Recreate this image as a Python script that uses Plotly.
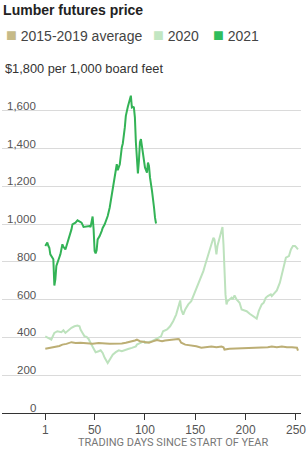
import plotly.graph_objects as go

# ---- data ----
days_2021 = [1, 3, 4, 5, 6, 8, 9, 10, 11, 12, 14, 16, 18, 19, 21, 23, 26, 27, 28, 31,
             33, 35, 37, 39, 41, 45, 46, 47, 48, 49, 50, 51, 52, 53, 55, 57, 58, 60, 62, 63,
             65, 67, 69, 71, 72, 73, 75, 77, 78, 80, 81, 83, 84, 85, 86, 87, 88, 89, 90, 91,
             92, 93, 94, 95, 96, 97, 99, 100, 102, 103, 104, 105, 107, 108, 109, 110, 111]
price_2021 = [884, 902, 885, 875, 840, 822, 814, 675, 707, 778, 813, 840, 893, 880, 866, 902, 946, 972, 999, 1008,
              1020, 1016, 1008, 985, 987, 990, 985, 1008, 1040, 972, 857, 845, 861, 919, 937, 963, 980, 999, 1025, 1043,
              1088, 1158, 1211, 1273, 1317, 1285, 1317, 1406, 1427, 1512, 1573, 1621, 1645, 1662, 1680, 1618, 1621, 1618, 1565, 1432,
              1326, 1268, 1335, 1432, 1450, 1414, 1353, 1300, 1273, 1326, 1308, 1247, 1176, 1140, 1088, 1034, 1003]

days_2020 = [1, 4, 7, 10, 13, 17, 19, 21, 23, 27, 30, 33, 35, 36, 38, 40, 42, 44, 46, 50,
             51, 54, 56, 58, 60, 63, 64, 66, 68, 71, 74, 77, 81, 84, 87, 91, 92, 95, 99, 100,
             104, 107, 110, 113, 116, 118, 122, 125, 128, 131, 134, 135, 136, 138, 140, 143, 146, 148, 150, 153,
             155, 158, 160, 162, 164, 166, 168, 169, 171, 172, 174, 176, 177, 178, 179, 180, 181, 182, 184, 186,
             187, 189, 191, 194, 196, 199, 201, 204, 206, 209, 211, 213, 216, 218, 220, 222, 225, 226, 229, 231,
             234, 236, 238, 240, 243, 245, 247, 249, 250, 252]
price_2020 = [406, 398, 389, 424, 433, 428, 438, 424, 433, 451, 459, 463, 459, 442, 424, 406, 403, 392, 371, 336,
              322, 327, 332, 318, 292, 265, 274, 292, 309, 322, 332, 327, 336, 340, 345, 353, 362, 371, 380, 371,
              375, 380, 389, 398, 406, 433, 442, 459, 486, 521, 584, 596, 548, 521, 548, 575, 592, 619, 645, 681,
              716, 751, 787, 822, 857, 893, 928, 919, 840, 884, 928, 972, 985, 893, 734, 628, 575, 592, 601, 610,
              601, 622, 601, 584, 548, 542, 539, 525, 518, 504, 500, 539, 575, 584, 610, 619, 628, 619, 637, 649,
              690, 734, 787, 822, 831, 866, 884, 884, 879, 866]

days_avg = [1, 4, 8, 12, 15, 18, 22, 27, 31, 36, 41, 45, 48, 54, 58, 61, 65, 68, 71, 74,
            77, 81, 85, 87, 90, 92, 95, 98, 100, 104, 107, 110, 112, 115, 117, 120, 125, 130, 133, 134,
            136, 140, 146, 151, 156, 161, 166, 171, 176, 178, 179, 184, 190, 197, 204, 210, 217, 222, 226, 231,
            236, 241, 246, 249, 251, 252]
price_avg = [340, 343, 346, 350, 355, 362, 366, 375, 371, 372, 371, 368, 367, 370, 367, 368, 366, 366, 366, 367,
             368, 372, 376, 378, 384, 388, 380, 377, 376, 372, 378, 382, 386, 382, 380, 384, 388, 389, 392, 390,
             372, 362, 359, 353, 346, 348, 352, 348, 352, 348, 336, 340, 341, 345, 345, 345, 348, 348, 352, 348,
             352, 348, 348, 345, 346, 330]

series_names = ["2015-2019 average", "2020", "2021"]
series_colors = ["#bcae74", "#bde2bd", "#33b356"]
legend_colors = ["#c6ba88", "#c2e6c2", "#2fbd5c"]

x_tickvals = [1, 50, 100, 150, 200, 250]
x_ticktext = ["1", "50", "100", "150", "200", "250"]
y_tickvals = [0, 200, 400, 600, 800, 1000, 1200, 1400, 1600, 1800]
y_ticktext = ["0", "200", "400", "600", "800", "1,000", "1,200", "1,400", "1,600",
              "$1,800 per 1,000 board feet"]

title_text = "Lumber futures price"
x_title = "TRADING DAYS SINCE START OF YEAR"

# ---- figure ----
W, H = 308, 458
ML, MR, MT, MB = 2, 4, 73, 45
plot_h = H - MT - MB
plot_w = W - ML - MR
x_range = [-42, 255]

fig = go.Figure()
draw_order = [(days_2020, price_2020, 1), (days_avg, price_avg, 0), (days_2021, price_2021, 2)]
for xs, ys, i in draw_order:
    fig.add_trace(go.Scatter(x=xs, y=ys, mode="lines", name=series_names[i],
                             line=dict(color=series_colors[i], width=2),
                             showlegend=False, hoverinfo="skip"))

base = "Liberation Sans, sans-serif"
annotations = []
# y tick labels sitting above gridlines
for v, t in zip(y_tickvals, y_ticktext):
    top = v == y_tickvals[-1]
    annotations.append(dict(
        x=0, xref="paper", y=v, yref="y", text=t, showarrow=False,
        xanchor="left" if top else "right", xshift=1 if top else 36,
        yanchor="middle", yshift=5,
        font=dict(family=base, size=12.8 if top else 11.5,
                  color="#333" if top else "#555")))

# legend built from series names/colors
legend_px = [2, 150, 211]
for name, col, px in zip(series_names, legend_colors, legend_px):
    annotations.append(dict(
        x=px / plot_w, xref="paper", y=1 + (MT - 35.5) / plot_h, yref="paper",
        text=f'<span style="color:{col};font-size:18px">■</span> {name}', showarrow=False,
        xanchor="left", yanchor="middle",
        font=dict(family=base, size=14, color="#444")))

# x-axis title centred under the data span
annotations.append(dict(
    x=(x_tickvals[0] + x_range[1]) / 2, xref="x", y=-(443 - (H - MB)) / plot_h, yref="paper",
    text=x_title, showarrow=False, xanchor="center", yanchor="middle",
    font=dict(family="Roboto, sans-serif", size=11, color="#777")))

fig.update_layout(
    width=W, height=H,
    margin=dict(l=ML, r=MR, t=MT, b=MB),
    paper_bgcolor="white", plot_bgcolor="white",
    title=dict(text=title_text, x=0.01, xanchor="left", xref="container",
               y=1 - 5 / H, yanchor="top", yref="container",
               font=dict(family=base, size=14, weight="bold", color="#222")),
    xaxis=dict(range=x_range, tickvals=x_tickvals, ticktext=x_ticktext,
               ticks="outside", ticklen=6, tickwidth=1, tickcolor="#333",
               showline=True, linecolor="#333", linewidth=1,
               showgrid=False, zeroline=False, ticklabeloverflow="allow",
               tickfont=dict(family=base, size=12, color="#555")),
    yaxis=dict(range=[0, 1800], tickvals=y_tickvals, showticklabels=False,
               showgrid=True, gridcolor="#dadada", gridwidth=1,
               zeroline=False, showline=False),
    annotations=annotations,
)

fig.write_html("out.html")
